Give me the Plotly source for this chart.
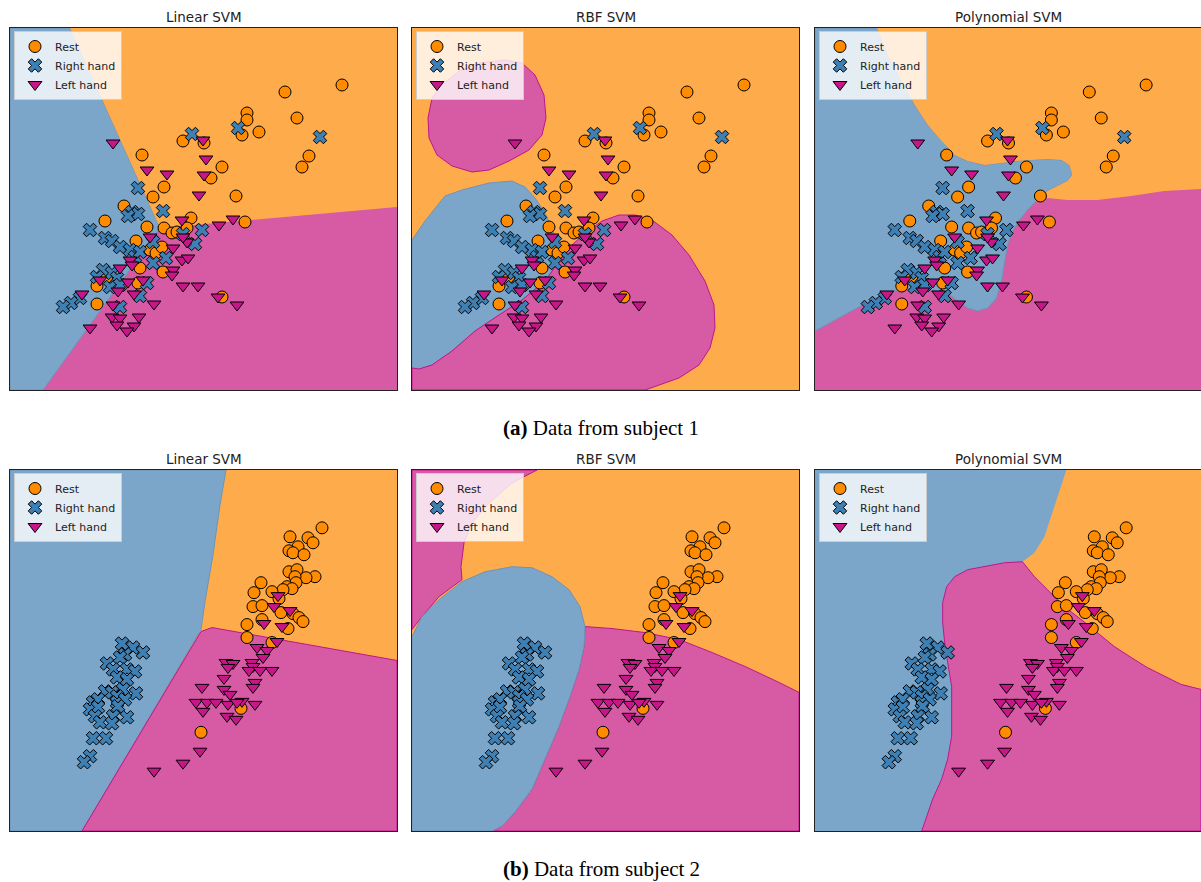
import plotly.graph_objects as go

W, H = 1201, 882

# ---------------- data (panel-relative units, y measured from top) ----------------
s1_rest = [(173,113),(194,115),(132,127),(154,159),(143,169),(212,139),(201,150),(226,168),
           (114,178),(95,193),(137,199),(154,200),(162,205),(167,204),(181,190),(235,194),
           (177,200),(126,213),(140,222),(146,225),(152,219),(130,240),(153,244),(97,249),
           (128,255),(87,258),(87,276),(212,269),(275,64),(332,57),(237,85),(237,92),
           (287,90),(232,107),(249,104),(299,128),(292,139)]
s1_right = [(182,106),(128,160),(228,100),(310,109),(122,184),(128,186),(118,188),(153,183),
            (80,202),(192,202),(173,206),(95,210),(102,213),(143,214),(110,219),(120,222),
            (185,216),(156,230),(143,235),(125,229),(130,224),(93,242),(102,245),(87,249),
            (107,250),(137,255),(100,259),(110,257),(130,268),(70,270),(61,275),(53,279),(110,279)]
s1_left = [(103,115),(193,112),(137,142),(157,146),(196,131),(194,147),(189,167),(172,192),
           (209,197),(223,191),(140,209),(163,220),(177,214),(173,209),(172,232),(178,230),
           (120,232),(122,237),(110,240),(163,242),(162,247),(90,252),(118,254),(133,252),
           (108,263),(124,266),(72,266),(103,277),(144,276),(173,258),(188,258),(208,269),
           (227,277),(102,289),(110,290),(129,289),(107,297),(124,298),(80,300),(117,303)]

s2_rest = [(312,58),(280,67),(298,68),(303,73),(288,77),(279,81),(283,83),(294,85),(279,102),
           (287,100),(305,107),(296,108),(285,107),(286,113),(277,117),(282,119),(273,120),
           (251,113),(262,122),(244,123),(269,129),(243,137),(252,136),(271,143),(283,144),
           (289,148),(293,152),(252,150),(237,155),(278,159),(237,168),(262,173),(231,239),(191,263)]
s2_right = [(112,174),(123,178),(133,183),(115,185),(97,194),(110,188),(103,200),(117,200),
            (125,202),(107,208),(117,210),(95,222),(102,223),(113,220),(126,224),(107,227),
            (83,233),(88,230),(107,233),(115,230),(80,240),(88,238),(108,237),(85,247),
            (103,247),(117,248),(90,253),(102,254),(83,269),(96,269),(80,287),(74,293)]
s2_left = [(268,126),(264,137),(280,141),(254,154),(272,157),(267,172),(247,178),(257,181),
           (253,188),(216,193),(223,194),(242,193),(243,197),(239,201),(250,201),(262,201),
           (218,198),(214,209),(245,213),(243,218),(192,218),(214,220),(220,225),(186,233),
           (197,233),(206,233),(218,235),(232,232),(245,235),(227,233),(193,242),(217,247),
           (226,250),(190,282),(173,294),(144,302)]

classes = ["Rest", "Right hand", "Left hand"]
titles = ["Linear SVM", "RBF SVM", "Polynomial SVM"]
captions = ["<b>(a)</b> Data from subject 1", "<b>(b)</b> Data from subject 2"]

# decision-region outlines
s1_lin_blue = [(0,0),(60,0),(150,200),(33,362),(0,362)]
s1_lin_orange = [(60,0),(387,0),(387,179),(150,200)]
s1_rbf_blob = [(93,32),(110,35),(123,47),(132,67),(134,90),(130,107),(117,122),(97,133),(77,142),
               (60,144),(40,138),(25,127),(17,110),(16,90),(20,70),(30,57),(47,43),(67,35)]
s1_rbf_blue = [(0,212),(13,193),(33,168),(50,162),(77,155),(100,153),(113,159),(123,170),(132,183),
               (140,200),(145,215),(148,232),(133,253),(110,272),(87,287),(63,303),(40,323),
               (20,337),(7,341),(0,340)]
s1_rbf_pink = [(148,232),(160,217),(173,205),(190,193),(207,187),(223,187),(240,192),(260,207),
               (277,227),(293,253),(302,277),(303,300),(298,320),(287,337),(267,350),(240,360),
               (233,362),(0,362),(0,340),(7,341),(20,337),(40,323),(63,303),(87,287),(110,272),(133,253)]
s1_poly_blue = [(0,0),(62,0),(73,27),(87,53),(100,77),(113,97),(127,113),(140,127),(153,133),(170,137),
                (187,135),(200,133),(217,132),(233,131),(247,132),(255,137),(258,147),(253,153),
                (243,158),(233,163),(222,173),(213,182),(205,192),(198,203),(193,217),(190,233),
                (187,253),(182,270),(173,280),(163,283),(153,280),(143,273),(133,265),(117,262),
                (97,260),(77,263),(57,272),(33,285),(0,303)]
s1_poly_orange = [(62,0),(387,0),(387,161),(350,163),(317,168),(283,172),(253,172),(233,170),(222,173),
                  (233,163),(243,158),(253,153),(258,147),(255,137),(247,132),(233,131),(217,132),
                  (200,133),(187,135),(170,137),(153,133),(140,127),(127,113),(113,97),(100,77),
                  (87,53),(73,27)]
s2_lin_blue = [(0,0),(216,0),(210,35),(203,85),(195,132),(191,160),(72,362),(0,362)]
s2_lin_pink = [(202,158),(387,191),(387,362),(72,362),(191,162)]
s2_rbf_pink_top = [(0,0),(125,0),(100,13),(77,33),(60,53),(52,73),(49,97),(50,110),(27,127),(10,147),(0,160)]
s2_rbf_pink = [(173,157),(200,159),(233,163),(267,170),(300,183),(333,197),(367,213),(387,223),
               (387,362),(80,362),(90,357),(103,343),(120,320),(133,290),(147,257),(158,227),
               (167,200),(172,177)]
s2_rbf_blue = [(0,167),(10,147),(27,130),(50,112),(73,102),(100,97),(120,98),(140,107),(157,120),
               (168,137),(173,157),(172,177),(167,200),(158,227),(147,257),(133,290),(120,320),
               (103,343),(90,357),(80,362),(0,362)]
s2_poly_orange = [(252,0),(387,0),(387,220),(367,215),(353,208),(333,198),(317,188),(300,177),
                  (283,163),(267,150),(250,137),(233,120),(220,107),(208,92),(220,83),(230,67),
                  (238,43),(245,20)]
s2_poly_pink = [(208,92),(220,107),(233,120),(250,137),(267,150),(283,163),(300,177),(317,188),
                (333,198),(353,208),(367,215),(387,220),(387,362),(107,362),(112,347),(118,330),
                (127,310),(133,290),(137,267),(137,240),(137,217),(133,193),(130,173),(128,153),
                (128,133),(132,117),(140,107),(153,100),(170,97),(190,93)]

# ---------------- styles ----------------
C_ORANGE_BG = "#FEAB4B"
C_BLUE_BG = "#7BA6C9"
C_PINK_BG = "#D75AA5"
LINE_PINK = "#C0168A"
LINE_BLUE = "#6E94B5"
MK_COL = ["#FF8C00", "#3E80B4", "#C7158A"]
MK_SYM = ["circle", "x", "triangle-down"]
MK_SIZE = [12, 12, 12]

region_color = {"o": C_ORANGE_BG, "b": C_BLUE_BG, "p": C_PINK_BG}
region_line = {"o": "rgba(0,0,0,0)", "b": LINE_BLUE, "p": LINE_PINK}

panels = [
    (0, 0, "p", [("b", s1_lin_blue), ("o", s1_lin_orange)]),
    (0, 1, "o", [("p", s1_rbf_blob), ("b", s1_rbf_blue), ("p", s1_rbf_pink)]),
    (0, 2, "p", [("b", s1_poly_blue), ("o", s1_poly_orange)]),
    (1, 0, "o", [("b", s2_lin_blue), ("p", s2_lin_pink)]),
    (1, 1, "o", [("p", s2_rbf_pink_top), ("p", s2_rbf_pink), ("b", s2_rbf_blue)]),
    (1, 2, "b", [("o", s2_poly_orange), ("p", s2_poly_pink)]),
]
subject_data = [[s1_rest, s1_right, s1_left], [s2_rest, s2_right, s2_left]]

col_px = [(10, 397), (412, 799), (815, 1201)]
row_px = [(28, 390), (470, 831)]

fig = go.Figure()
layout = {}
for i, (r, c, bg, regions) in enumerate(panels):
    n = i + 1
    xa = "x" if n == 1 else f"x{n}"
    ya = "y" if n == 1 else f"y{n}"
    x0, x1 = col_px[c]
    y0, y1 = row_px[r]
    xkey = "xaxis" if n == 1 else f"xaxis{n}"
    ykey = "yaxis" if n == 1 else f"yaxis{n}"
    axcommon = dict(showgrid=False, zeroline=False, showticklabels=False, ticks="",
                    showline=True, linecolor="#222", linewidth=1, mirror=True, fixedrange=True)
    layout[xkey] = dict(domain=[x0 / W, x1 / W], range=[0, 387], anchor=ya, **axcommon)
    layout[ykey] = dict(domain=[1 - y1 / H, 1 - y0 / H], range=[362, 0], anchor=xa, **axcommon)

    fig.add_shape(type="rect", xref=f"{xa} domain", yref=f"{ya} domain", x0=0, x1=1, y0=0, y1=1,
                  fillcolor=region_color[bg], line_width=0, layer="below")
    for key, poly in regions:
        px = [p[0] for p in poly] + [poly[0][0]]
        py = [p[1] for p in poly] + [poly[0][1]]
        fig.add_trace(go.Scatter(x=px, y=py, mode="lines", fill="toself",
                                 fillcolor=region_color[key],
                                 line=dict(color=region_line[key], width=1),
                                 hoverinfo="skip", showlegend=False, xaxis=xa, yaxis=ya))
    lg = "legend" if n == 1 else f"legend{n}"
    for k, pts in enumerate(subject_data[r]):
        fig.add_trace(go.Scatter(
            x=[p[0] for p in pts], y=[p[1] for p in pts], mode="markers", name=classes[k],
            marker=dict(symbol=MK_SYM[k], size=MK_SIZE[k], color=MK_COL[k],
                        line=dict(color="black", width=1)),
            xaxis=xa, yaxis=ya, legend=lg, showlegend=True))
    layout[lg] = dict(x=(x0 + 4) / W, y=1 - (y0 + 3) / H, xanchor="left", yanchor="top",
                      xref="paper", yref="paper",
                      bgcolor="rgba(255,255,255,0.8)", bordercolor="#cccccc", borderwidth=1,
                      font=dict(family="DejaVu Sans", size=11, color="#222"),
                      itemsizing="trace", tracegroupgap=0)

annotations = []
for r in range(2):
    for c in range(3):
        x0, x1 = col_px[c]
        y0, _ = row_px[r]
        annotations.append(dict(text=titles[c], x=(x0 + x1) / 2 / W, y=1 - (y0 - 11) / H,
                                xref="paper", yref="paper", showarrow=False,
                                xanchor="center", yanchor="middle",
                                font=dict(family="DejaVu Sans", size=13.5, color="#222")))
for r, cy in enumerate([428, 869]):
    annotations.append(dict(text=captions[r], x=601 / W, y=1 - cy / H, xref="paper", yref="paper",
                            showarrow=False, xanchor="center", yanchor="middle",
                            font=dict(family="Liberation Serif", size=21, color="black")))

fig.update_layout(width=W, height=H, margin=dict(l=0, r=0, t=0, b=0),
                  paper_bgcolor="white", plot_bgcolor="white",
                  annotations=annotations, **layout)
fig.write_html("out.html", config={"displayModeBar": False},
               post_script="document.body.style.margin='0';document.body.style.overflow='hidden';")
